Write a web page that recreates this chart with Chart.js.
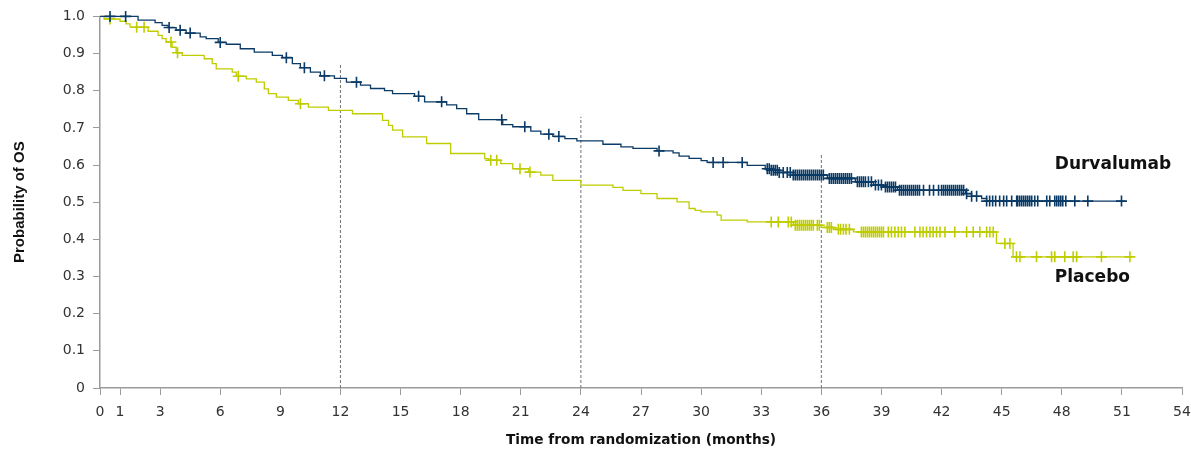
<!DOCTYPE html>
<html>
<head>
<meta charset="utf-8">
<script src="https://cdn.jsdelivr.net/npm/chart.js@4.4.0/dist/chart.umd.min.js"></script>
<style>
html,body{margin:0;padding:0;background:#fff;}
#wrap{width:1191px;height:451px;position:relative;}
</style>
</head>
<body>
<div id="wrap"><canvas id="c"></canvas></div>
<script>
// ---- Data ----
const seriesNames = ['Durvalumab', 'Placebo'];

// Durvalumab: step times (months) and survival after each step
const durTimes = [0, 1.9, 2.75, 3.1, 3.4, 3.8, 4.3, 5.0, 5.3, 5.9, 6.3, 7.0, 7.7, 8.6, 9.1, 9.6, 10.0, 10.5, 11.0, 11.7, 12.3, 13.0, 13.5, 14.2, 14.6, 15.7, 16.2, 17.3, 17.8, 18.3, 18.9, 20.1, 20.6, 21.5, 22.0, 22.6, 23.2, 23.8, 25.1, 26.0, 26.6, 27.8, 28.6, 28.9, 29.4, 30.0, 30.3, 32.3, 33.2, 33.5, 33.9, 34.6, 36.3, 37.7, 38.6, 39.1, 39.8, 43.2, 43.5, 44.0, 44.25, 51.15];
const durSurv = [1.0, 0.99, 0.983, 0.976, 0.97, 0.963, 0.955, 0.945, 0.94, 0.93, 0.925, 0.913, 0.904, 0.895, 0.889, 0.873, 0.862, 0.85, 0.84, 0.833, 0.823, 0.815, 0.806, 0.8, 0.792, 0.785, 0.77, 0.762, 0.752, 0.738, 0.722, 0.709, 0.703, 0.691, 0.683, 0.677, 0.671, 0.665, 0.656, 0.649, 0.645, 0.638, 0.633, 0.624, 0.618, 0.612, 0.607, 0.599, 0.59, 0.586, 0.58, 0.573, 0.564, 0.555, 0.546, 0.541, 0.532, 0.523, 0.516, 0.51, 0.503, 0.503];
const durCensor = [0.5, 1.28, 3.45, 4.0, 4.5, 6.0, 9.3, 10.2, 11.2, 12.8, 15.9, 17.05, 20.05, 21.2, 22.4, 22.9, 27.9, 30.6, 31.1, 32.05, 33.3, 33.4, 33.5, 33.6, 33.7, 33.8, 33.9, 34.1, 34.3, 34.45, 34.6, 34.7, 34.8, 34.9, 35.0, 35.1, 35.2, 35.3, 35.4, 35.5, 35.6, 35.7, 35.8, 35.9, 36.0, 36.1, 36.4, 36.5, 36.6, 36.7, 36.8, 36.9, 37.0, 37.1, 37.2, 37.3, 37.4, 37.5, 37.8, 37.9, 38.0, 38.1, 38.2, 38.35, 38.5, 38.7, 38.85, 39.0, 39.2, 39.3, 39.4, 39.5, 39.6, 39.7, 39.9, 40.0, 40.1, 40.2, 40.3, 40.4, 40.5, 40.6, 40.7, 40.8, 40.9, 41.1, 41.4, 41.6, 41.85, 42.0, 42.1, 42.2, 42.3, 42.4, 42.5, 42.6, 42.7, 42.8, 42.9, 43.0, 43.1, 43.25, 43.5, 43.75, 44.25, 44.4, 44.55, 44.7, 44.9, 45.1, 45.25, 45.5, 45.75, 45.8, 45.9, 46.0, 46.1, 46.2, 46.3, 46.4, 46.5, 46.65, 46.8, 47.25, 47.4, 47.65, 47.75, 47.85, 47.95, 48.05, 48.2, 48.65, 49.3, 50.98];

// Placebo
const plaTimes = [0, 0.2, 1.0, 1.3, 1.5, 2.4, 2.9, 3.1, 3.3, 3.6, 3.8, 4.1, 5.2, 5.6, 5.8, 6.6, 6.8, 7.3, 7.8, 8.2, 8.4, 8.8, 9.4, 9.9, 10.4, 11.4, 12.6, 14.1, 14.4, 14.6, 15.1, 16.3, 17.5, 19.2, 19.4, 20.0, 20.6, 21.4, 22.0, 22.6, 24.0, 25.6, 26.1, 27.0, 27.8, 28.8, 29.4, 29.7, 30.0, 30.8, 31.0, 32.3, 34.6, 36.0, 36.6, 37.6, 44.74, 45.57, 51.5];
const plaSurv = [1.0, 0.993, 0.987, 0.98, 0.971, 0.96, 0.949, 0.94, 0.931, 0.917, 0.902, 0.895, 0.886, 0.873, 0.859, 0.85, 0.839, 0.832, 0.823, 0.805, 0.792, 0.783, 0.774, 0.765, 0.756, 0.747, 0.738, 0.72, 0.707, 0.694, 0.676, 0.658, 0.631, 0.617, 0.613, 0.604, 0.59, 0.581, 0.573, 0.559, 0.546, 0.54, 0.532, 0.523, 0.51, 0.501, 0.483, 0.478, 0.474, 0.465, 0.452, 0.447, 0.438, 0.432, 0.427, 0.42, 0.389, 0.353, 0.353];
const plaCensor = [0.5, 1.83, 2.2, 3.54, 3.87, 6.9, 10.0, 19.5, 19.8, 20.96, 21.46, 33.5, 33.85, 34.35, 34.5, 34.7, 34.8, 34.9, 35.0, 35.1, 35.2, 35.3, 35.4, 35.5, 35.6, 35.8, 35.9, 36.3, 36.4, 36.5, 36.85, 36.96, 37.1, 37.23, 37.4, 38.0, 38.1, 38.2, 38.3, 38.4, 38.5, 38.6, 38.7, 38.8, 38.9, 39.0, 39.1, 39.34, 39.5, 39.67, 39.84, 40.0, 40.17, 40.67, 40.92, 41.08, 41.25, 41.42, 41.58, 41.75, 41.92, 42.17, 42.66, 43.25, 43.58, 43.91, 44.25, 44.41, 44.58, 45.16, 45.41, 45.74, 45.91, 46.74, 47.49, 47.65, 48.15, 48.57, 48.74, 49.98, 51.4];

// Reference (landmark) lines
const refLineX = [12, 24, 36];
const refLineTop = [0.87, 0.73, 0.63];

// Axis ticks
const xTickValues = [0, 1, 3, 6, 9, 12, 15, 18, 21, 24, 27, 30, 33, 36, 39, 42, 45, 48, 51, 54];
const yTickValues = [0, 0.1, 0.2, 0.3, 0.4, 0.5, 0.6, 0.7, 0.8, 0.9, 1.0];
const xTitle = 'Time from randomization (months)';
const yTitle = 'Probability of OS';

// ---- Helpers ----
function survAt(times, surv, t) {
  let v = surv[0];
  for (let i = 0; i < times.length; i++) {
    if (times[i] <= t) v = surv[i]; else break;
  }
  return v;
}
function steps(times, surv) { return times.map((t, i) => ({x: t, y: surv[i]})); }
function marks(cens, times, surv) { return cens.map(t => ({x: t, y: survAt(times, surv, t)})); }

const DUR = '#0a3a66';
const PLA = '#bfcd00';

const datasets = [];
refLineX.forEach((xv, i) => {
  datasets.push({
    data: [{x: xv, y: 0}, {x: xv, y: refLineTop[i]}],
    borderColor: '#707070', borderWidth: 1, borderDash: [3, 2],
    pointRadius: 0, order: 10, clip: false
  });
});
datasets.push({
  label: seriesNames[0], data: steps(durTimes, durSurv), stepped: true,
  borderColor: DUR, borderWidth: 1.3, pointRadius: 0, order: 3, clip: false
});
datasets.push({
  label: seriesNames[1], data: steps(plaTimes, plaSurv), stepped: true,
  borderColor: PLA, borderWidth: 1.3, pointRadius: 0, order: 4, clip: false
});
datasets.push({
  label: seriesNames[0] + ' censored', data: marks(durCensor, durTimes, durSurv), showLine: false,
  pointStyle: 'cross', pointRadius: 5.5, pointBorderWidth: 1.6, borderColor: DUR, backgroundColor: DUR,
  order: 1, clip: false
});
datasets.push({
  label: seriesNames[1] + ' censored', data: marks(plaCensor, plaTimes, plaSurv), showLine: false,
  pointStyle: 'cross', pointRadius: 5.5, pointBorderWidth: 1.6, borderColor: PLA, backgroundColor: PLA,
  order: 2, clip: false
});

const curveLabels = {
  id: 'curveLabels',
  afterDatasetsDraw(chart, args, opts) {
    const {ctx, scales: {x, y}} = chart;
    ctx.save();
    ctx.font = 'bold 17px "DejaVu Sans"';
    ctx.fillStyle = '#111';
    ctx.textBaseline = 'middle';
    ctx.textAlign = 'left';
    opts.items.forEach(it => {
      ctx.fillText(it.text, x.getPixelForValue(it.x), y.getPixelForValue(it.y));
    });
    ctx.restore();
  }
};

new Chart(document.getElementById('c'), {
  type: 'line',
  data: {datasets},
  plugins: [curveLabels],
  options: {
    responsive: true, maintainAspectRatio: false, animation: false,
    layout: {padding: {top: 16, right: 9, bottom: 0, left: 0}},
    plugins: {
      legend: {display: false}, tooltip: {enabled: false},
      curveLabels: {items: [
        {text: seriesNames[0], x: 47.65, y: 0.602},
        {text: seriesNames[1], x: 47.65, y: 0.296}
      ]}
    },
    scales: {
      x: {
        type: 'linear', min: 0, max: 54,
        afterBuildTicks: s => { s.ticks = xTickValues.map(v => ({value: v})); },
        afterFit: s => { s.height = 63; s.paddingRight = 0; s.paddingLeft = 0; },
        grid: {drawOnChartArea: false, drawTicks: true, tickLength: 7, color: '#9a9a9a'},
        border: {color: '#9a9a9a', width: 1.5},
        ticks: {autoSkip: false, maxRotation: 0, padding: 9, color: '#333',
                font: {family: '"DejaVu Sans"', size: 14}, callback: v => String(v)},
        title: {display: true, text: xTitle, color: '#111',
                font: {family: '"DejaVu Sans"', size: 13.7, weight: 'bold'}, padding: {top: 0, bottom: 2}}
      },
      y: {
        type: 'linear', min: 0, max: 1,
        afterBuildTicks: s => { s.ticks = yTickValues.map(v => ({value: v})); },
        afterFit: s => { s.width = 100; },
        grid: {drawOnChartArea: false, drawTicks: true, tickLength: 7, color: '#9a9a9a'},
        border: {color: '#9a9a9a', width: 1.5},
        ticks: {padding: 8, color: '#333', font: {family: '"DejaVu Sans"', size: 14},
                callback: v => (v === 0 ? '0' : v.toFixed(1))},
        title: {display: true, text: yTitle, color: '#111',
                font: {family: '"Liberation Sans"', size: 15, weight: 'bold'}, padding: {top: 11, bottom: 0}}
      }
    }
  }
});
</script>
</body>
</html>
